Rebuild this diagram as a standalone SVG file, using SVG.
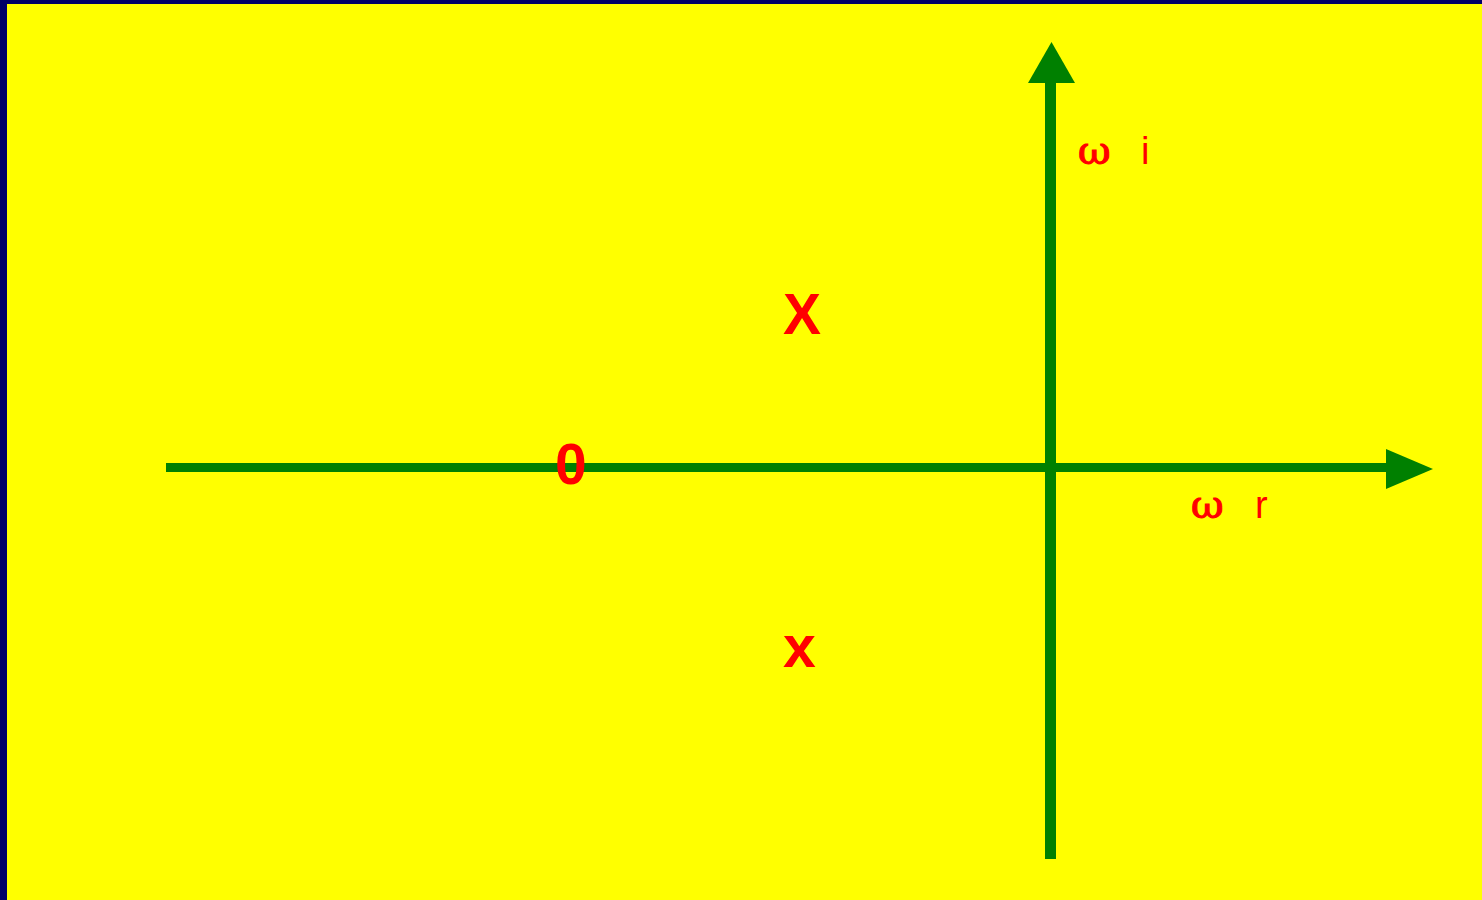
<svg xmlns="http://www.w3.org/2000/svg" width="1482" height="900" viewBox="0 0 1482 900">
<style>
.lbl{fill:#ff0000;font-family:"Liberation Sans",Arial,sans-serif}
.big{font-weight:bold;font-size:57px}
.ax{font-size:38px}
.om{font-family:"DejaVu Serif",serif;font-size:40px;stroke:#ff0000;stroke-width:1.2px}
.axis{stroke:#008000;fill:none}
.head{fill:#008000}
</style>
<rect x="0" y="0" width="1482" height="900" fill="#000066"/>
<rect x="7" y="4" width="1475" height="896" fill="#ffff00"/>
<g id="connectors">
<line class="axis" x1="166" y1="467.5" x2="1390" y2="467.5" stroke-width="9"/>
<polygon class="head" points="1386,449 1433,469 1386,489"/>
<line class="axis" x1="1050.5" y1="859" x2="1050.5" y2="80" stroke-width="11"/>
<polygon class="head" points="1028,83 1051.5,42 1075,83"/>
</g>
<g id="label-wi"><text class="lbl ax" x="1078" y="164"><tspan class="om">ω</tspan><tspan x="1141" stroke="none">i</tspan></text></g>
<g id="label-wr"><text class="lbl ax" x="1191" y="518"><tspan class="om">ω</tspan><tspan x="1255" stroke="none">r</tspan></text></g>
<g id="zero"><text class="lbl big" x="555" y="484">0</text></g>
<g id="pole-upper"><text class="lbl big" x="783" y="334">X</text></g>
<g id="pole-lower"><text class="lbl big" x="783" y="667" style="font-size:59px">x</text></g>
</svg>
